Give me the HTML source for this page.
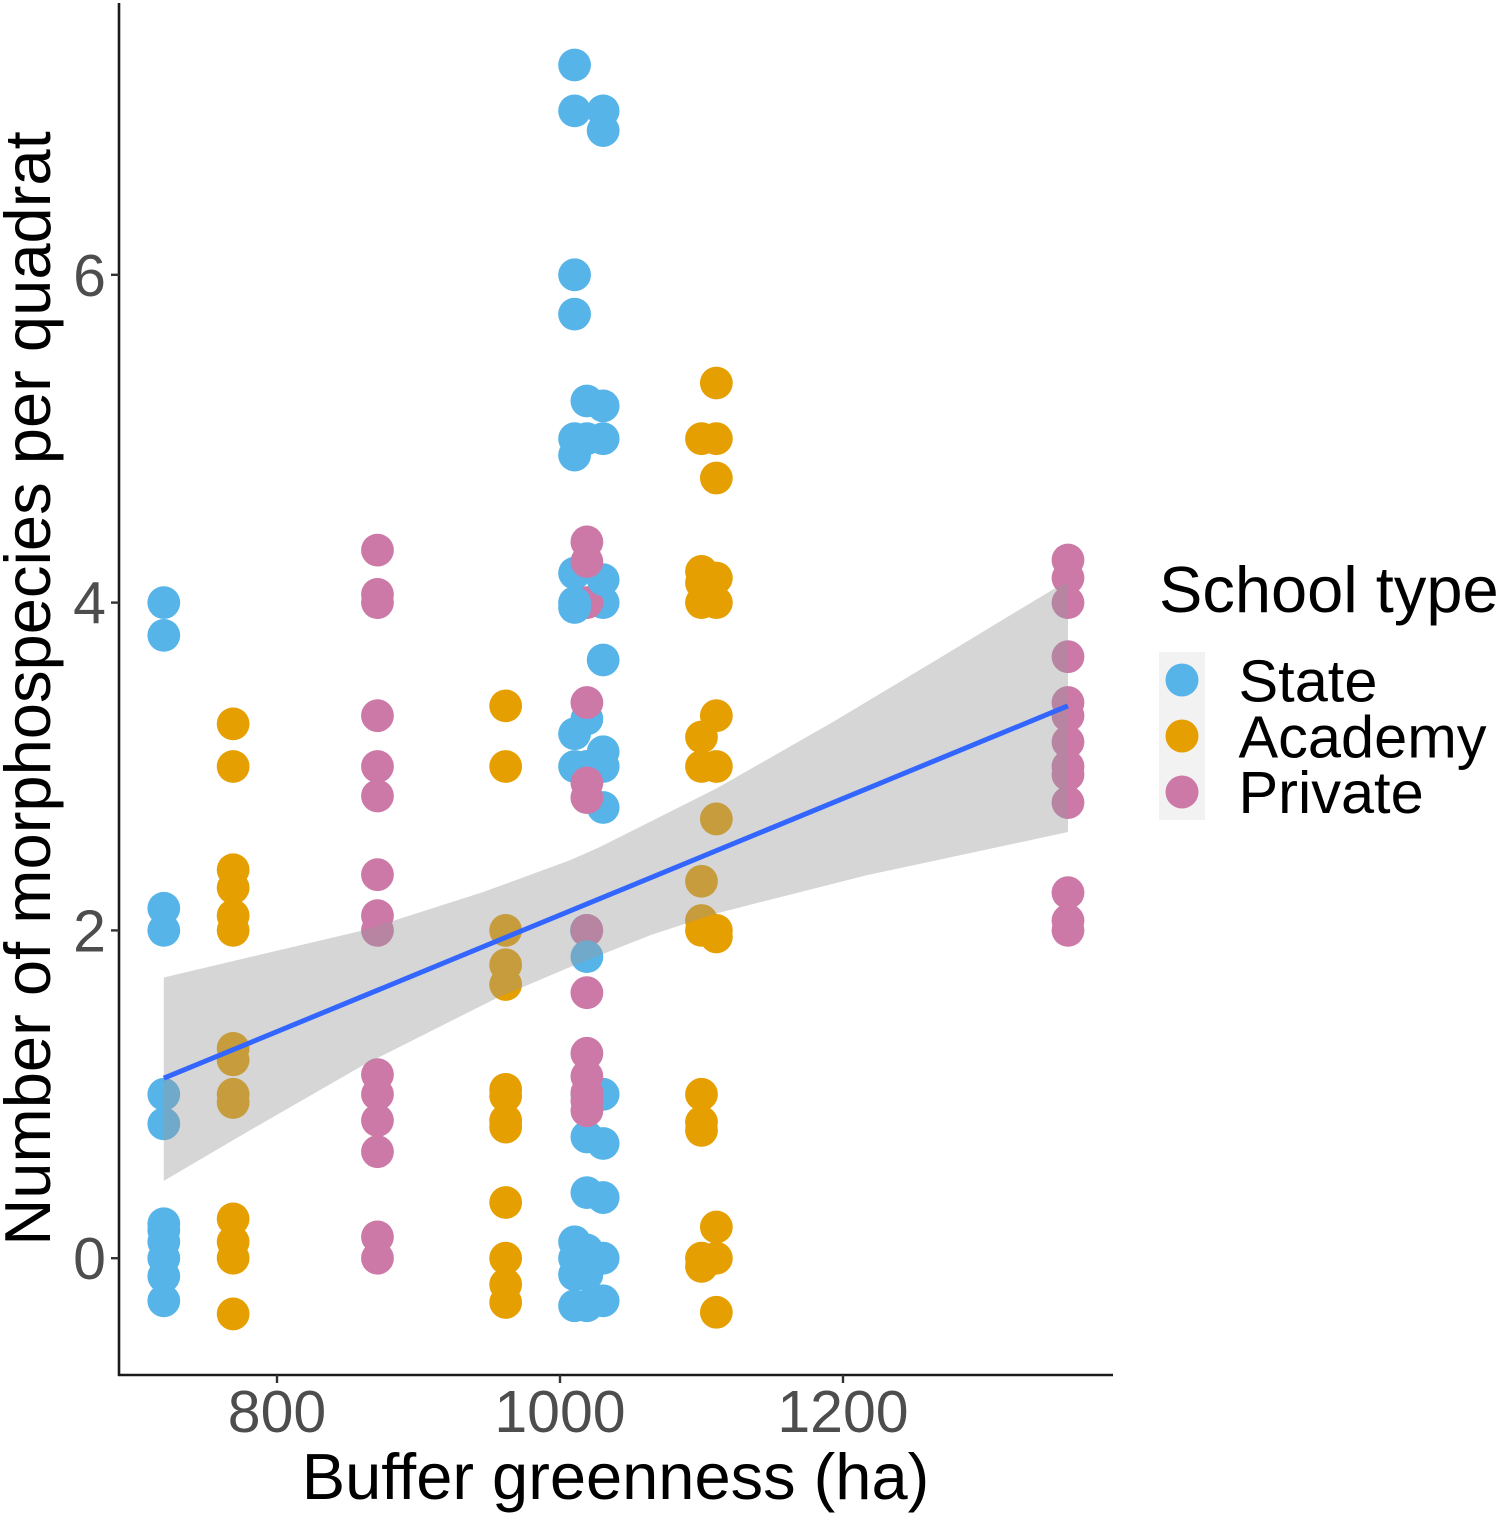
<!DOCTYPE html>
<html lang="en">
<head>
<meta charset="utf-8">
<title>Buffer greenness vs morphospecies</title>
<style>
html,body{margin:0;padding:0;background:#fff;}
svg{display:block;}
text{font-family:"Liberation Sans",Arial,sans-serif;}
</style>
</head>
<body>
<svg id="chart" xmlns="http://www.w3.org/2000/svg" width="1500" height="1518" viewBox="0 0 1500 1518">
<rect x="0" y="0" width="1500" height="1518" fill="#ffffff"/>
<g id="points"></g>
<g id="fit"></g>
<g id="axes"></g>
<text x="615.5" y="1499" font-size="65" text-anchor="middle" fill="#000">Buffer greenness (ha)</text>
<text transform="translate(50,688.5) rotate(-90)" font-size="65.1" text-anchor="middle" fill="#000">Number of morphospecies per quadrat</text>
<g>
<text x="1159" y="612" font-size="65" fill="#000">School type</text>
<rect x="1159" y="652" width="46" height="168" fill="#f2f2f2"/>
<circle cx="1182" cy="680" r="16.5" fill="#56B4E9"/>
<circle cx="1182" cy="736" r="16.5" fill="#E69F00"/>
<circle cx="1182" cy="792" r="16.5" fill="#CC79A7"/>
<text x="1238.5" y="701.5" font-size="59.5" fill="#000">State</text>
<text x="1238.5" y="757.5" font-size="59.5" fill="#000">Academy</text>
<text x="1238.5" y="813" font-size="59.5" fill="#000">Private</text>
</g>
</svg>
<script>
// Each series: greenness column values with the counts read at that column.
const stateX1030Base = [4.0];
const stateX1019Base = [2.0];
const stateX720 = [4.0,3.8,2.135,2.0,1.0,0.82,0.21,0.17,0.1,0,-0.11,-0.26];
const stateX1010 = [7.28,7.0,6.0,5.76,5.0,4.9,4.18,4.0,3.97,3.2,3.0,0.1,0,-0.1,-0.29];
const stateX1019 = [5.23,5.0,3.29,3.0,1.84,1.0,0.74,0.4,0.05,-0.1,-0.29];
const stateX1030 = [7.0,6.88,5.2,5.0,4.14,3.65,3.09,3.0,2.75,1.0,0.7,0.37,0,-0.26];
const academyX769 = [3.26,3.0,2.37,2.26,2.09,2.0,1.28,1.21,1.0,0.95,0.24,0.1,0,-0.34];
const academyX962 = [3.37,3.0,2.0,1.79,1.67,1.03,0.99,0.84,0.8,0.34,0,-0.16,-0.27];
const academyX1100 = [5.0,4.19,4.12,4.0,3.18,3.0,2.3,2.06,2.0,1.0,0.83,0.78,0,-0.05];
const academyX1110 = [5.34,5.0,4.76,4.15,4.0,3.31,3.0,2.68,2.0,1.96,0.19,0,-0.33];
const privateX871 = [4.32,4.05,4.0,3.31,3.0,2.82,2.34,2.09,2.0,1.12,1.0,0.84,0.65,0.13,0];
const privateX1019Under = [4.0,3.0,2.0];
const privateX1019 = [4.37,4.25,3.39,2.9,2.81,1.62,1.25,1.11,1.01,0.96,0.9];
const privateX1359 = [4.26,4.15,4.0,3.67,3.39,3.31,3.15,3.0,2.95,2.78,2.23,2.06,2.0];

const seriesColumns = [
  ['state', 1030.5, stateX1030Base],
  ['state', 1018.7, stateX1019Base],
  ['private', 1019, privateX1019Under],
  ['state', 720, stateX720],
  ['state', 1010.3, stateX1010],
  ['state', 1019, stateX1019],
  ['state', 1030.5, stateX1030],
  ['academy', 769, academyX769],
  ['academy', 961.6, academyX962],
  ['academy', 1100, academyX1100],
  ['academy', 1110.5, academyX1110],
  ['private', 871, privateX871],
  ['private', 1019, privateX1019],
  ['private', 1359, privateX1359]
];
const seriesColors = {state:'#56B4E9', academy:'#E69F00', private:'#CC79A7'};

const fitX = [720,1359];
const fitY = [1.098,3.37];
const bandUpperX = [720,861,946,1007,1028,1111,1193,1264,1351,1359];
const bandUpper = [1.713,2.0,2.235,2.428,2.508,2.868,3.272,3.64,4.094,4.125];
const bandLowerX = [720,781,861,955,1007,1064,1111,1217,1359];
const bandLower = [0.472,0.781,1.178,1.586,1.776,1.971,2.105,2.337,2.6];

const xTicks = [800,1000,1200];
const yTicks = [0,2,4,6];

function xScale(v){ return 277 + (v - 800) * 1.415; }
function yScale(v){ return 1258.2 - v * 163.9; }

const NS = 'http://www.w3.org/2000/svg';
function make(tag, attrs){
  const el = document.createElementNS(NS, tag);
  for (const k in attrs) el.setAttribute(k, attrs[k]);
  return el;
}

const pointsLayer = document.getElementById('points');
seriesColumns.forEach(function(col){
  col[2].forEach(function(v){
    const c = make('circle', {cx:xScale(col[1]), cy:yScale(v), r:16.4, fill:seriesColors[col[0]]});
    
    
    pointsLayer.appendChild(c);
  });
});

const fitLayer = document.getElementById('fit');
let bandPath = '';
bandUpperX.forEach(function(x,i){ bandPath += (i ? 'L' : 'M') + xScale(x) + ' ' + yScale(bandUpper[i]); });
for (let i = bandLowerX.length - 1; i >= 0; i--) { bandPath += 'L' + xScale(bandLowerX[i]) + ' ' + yScale(bandLower[i]); }
const band = make('path', {d:bandPath + 'Z', fill:'#999999', 'fill-opacity':0.4});


fitLayer.appendChild(band);

const fitLine = make('line', {x1:xScale(fitX[0]), y1:yScale(fitY[0]), x2:xScale(fitX[1]), y2:yScale(fitY[1]), stroke:'#3366FF', 'stroke-width':5});


fitLayer.appendChild(fitLine);

const axesLayer = document.getElementById('axes');
const yAxis = make('line', {x1:119, y1:3, x2:119, y2:1376, stroke:'#1a1a1a', 'stroke-width':2.6});


axesLayer.appendChild(yAxis);
const xAxis = make('line', {x1:118, y1:1375, x2:1113, y2:1375, stroke:'#1a1a1a', 'stroke-width':2.6});


axesLayer.appendChild(xAxis);

xTicks.forEach(function(t){
  const mark = make('line', {x1:xScale(t), y1:1375, x2:xScale(t), y2:1383, stroke:'#333333', 'stroke-width':2.4});
  
  
  axesLayer.appendChild(mark);
  const label = make('text', {x:xScale(t), y:1432, 'font-size':59, 'text-anchor':'middle', fill:'#4D4D4D'});
  
  
  label.textContent = t;
  axesLayer.appendChild(label);
});
yTicks.forEach(function(t){
  const mark = make('line', {x1:111, y1:yScale(t), x2:119, y2:yScale(t), stroke:'#333333', 'stroke-width':2.4});
  
  
  axesLayer.appendChild(mark);
  const label = make('text', {x:106, y:yScale(t) + 21, 'font-size':59, 'text-anchor':'end', fill:'#4D4D4D'});
  
  
  label.textContent = t;
  axesLayer.appendChild(label);
});
</script>
</body>
</html>
